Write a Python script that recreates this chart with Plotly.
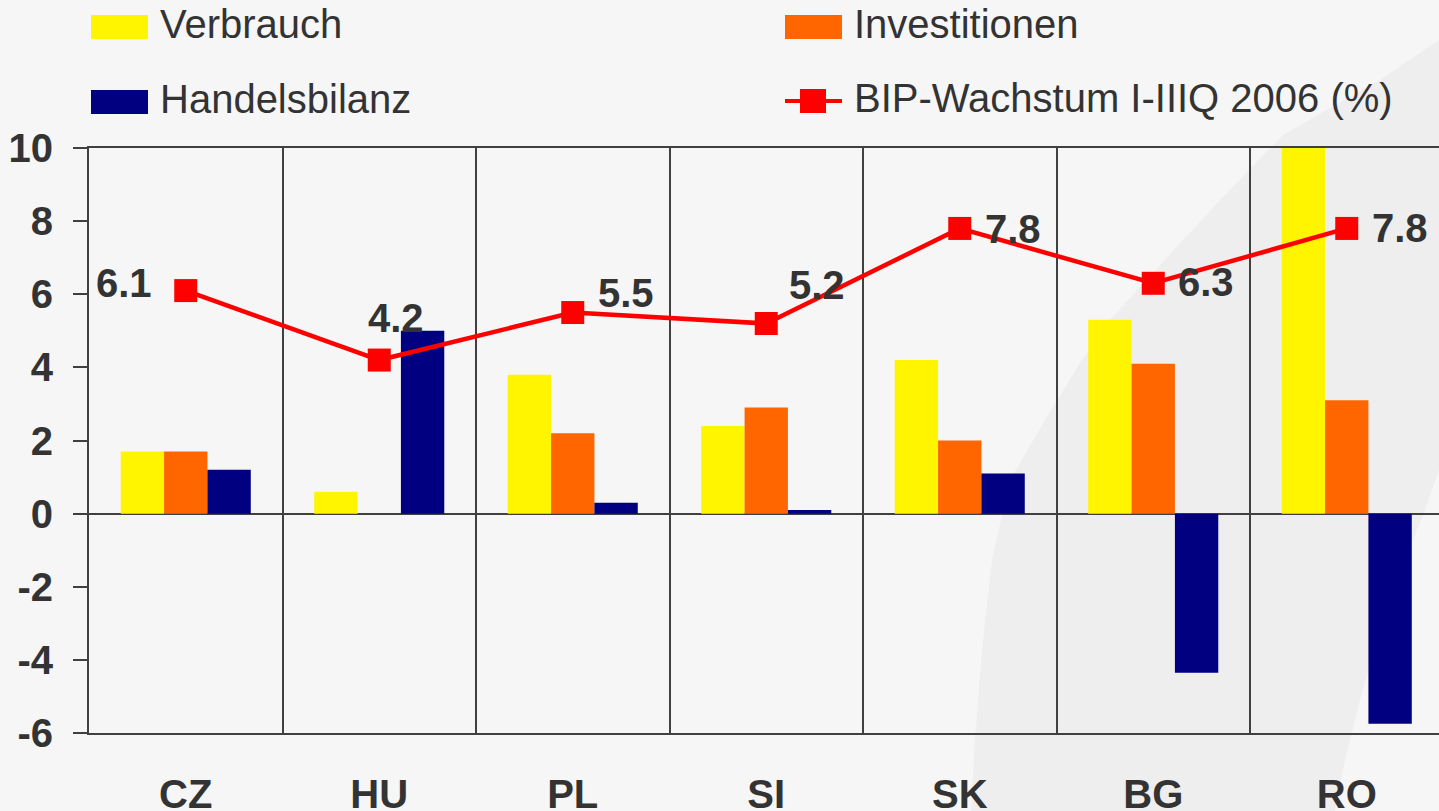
import plotly.graph_objects as go

# ---- data ----
countries = ["CZ", "HU", "PL", "SI", "SK", "BG", "RO"]
verbrauch = [1.7, 0.6, 3.8, 2.4, 4.2, 5.3, 10.8]
investitionen = [1.7, 0.0, 2.2, 2.9, 2.0, 4.1, 3.1]
handelsbilanz = [1.2, 5.0, 0.3, 0.1, 1.1, -4.35, -5.75]
bip_wachstum = [6.1, 4.2, 5.5, 5.2, 7.8, 6.3, 7.8]

series_names = ["Verbrauch", "Investitionen", "Handelsbilanz", "BIP-Wachstum I-IIIQ 2006 (%)"]
y_tickvals = [-6, -4, -2, 0, 2, 4, 6, 8, 10]
y_ticktext = ["-6", "-4", "-2", "0", "2", "4", "6", "8", "10"]

# ---- styles ----
C_YEL = "#FFF500"
C_ORG = "#FF6600"
C_NAV = "#000080"
C_RED = "#FF0000"
C_AX = "#404040"
C_TXT = "#333333"
FONT = "Liberation Sans, Arial, sans-serif"

W, H = 1439, 811
L, R, T, B = 89, 0, 148, 78
PW, PH = W - L - R, H - T - B


def px(x):
    return (x - L) / PW


def py(y):
    return (H - B - y) / PH


fig = go.Figure()
fig.add_bar(x=countries, y=verbrauch, name=series_names[0], marker=dict(color=C_YEL, line_width=0))
fig.add_bar(x=countries, y=investitionen, name=series_names[1], marker=dict(color=C_ORG, line_width=0))
fig.add_bar(x=countries, y=handelsbilanz, name=series_names[2], marker=dict(color=C_NAV, line_width=0))
fig.add_scatter(x=countries, y=bip_wachstum, name=series_names[3], mode="lines+markers",
                line=dict(color=C_RED, width=4.5),
                marker=dict(symbol="square", size=23, color=C_RED))

# data labels for growth line
offsets = [(-62, 8), (17, 42), (53, 20), (51, 39), (53, -1), (53, 1), (53, 0)]
annotations = []
for c, v, (dx, dy) in zip(countries, bip_wachstum, offsets):
    annotations.append(dict(x=c, y=v, text=f"{v:.1f}", showarrow=False, xshift=dx, yshift=dy,
                            xanchor="center", yanchor="middle",
                            font=dict(family=FONT, size=40, color=C_TXT, weight="bold")))

# background swoosh
pts = [(1439, 40), (1380, 80), (1330, 108), (1283, 135), (1220, 200), (1160, 265), (1110, 320),
       (1080, 363), (1045, 420), (1010, 480), (992, 560), (982, 650), (975, 740), (971, 811),
       (1335, 811), (1345, 760), (1360, 700), (1380, 630), (1405, 560), (1425, 510), (1439, 470)]
path = "M " + " L ".join(f"{px(a):.5f},{py(b):.5f}" for a, b in pts) + " Z"
shapes = [dict(type="path", xref="paper", yref="paper", path=path, fillcolor="#EEEEEE",
               line=dict(width=0), layer="below")]

# manual legend
leg_items = [
    (series_names[0], C_YEL, 91, 27, "bar"),
    (series_names[1], C_ORG, 785, 27, "bar"),
    (series_names[2], C_NAV, 91, 102, "bar"),
    (series_names[3], C_RED, 785, 101, "line"),
]
for name, col, x0, yc, kind in leg_items:
    if kind == "bar":
        shapes.append(dict(type="rect", xref="paper", yref="paper",
                           x0=px(x0), x1=px(x0 + 57), y0=py(yc - 12), y1=py(yc + 12),
                           fillcolor=col, line=dict(width=0)))
    else:
        shapes.append(dict(type="line", xref="paper", yref="paper",
                           x0=px(x0), x1=px(x0 + 57), y0=py(yc), y1=py(yc),
                           line=dict(color=col, width=4)))
        shapes.append(dict(type="rect", xref="paper", yref="paper",
                           x0=px(x0 + 15), x1=px(x0 + 41), y0=py(yc - 12), y1=py(yc + 12),
                           fillcolor=col, line=dict(width=0)))
    annotations.append(dict(xref="paper", yref="paper", x=px(x0 + 67), y=py(yc - 3), text=name,
                            showarrow=False, xanchor="left", yanchor="middle",
                            font=dict(family=FONT, size=40, color=C_TXT)))

fig.update_layout(
    width=W, height=H,
    margin=dict(l=L, r=R, t=T, b=B, pad=0),
    paper_bgcolor="#F6F6F6", plot_bgcolor="rgba(0,0,0,0)",
    barmode="group", bargap=0.328, bargroupgap=0,
    showlegend=False,
    shapes=shapes, annotations=annotations,
    xaxis=dict(type="category", range=[-0.5, -0.5 + PW / 193.5], tickson="boundaries",
               automargin=False,
               showgrid=True, gridcolor=C_AX, gridwidth=2,
               showline=True, mirror=True, linecolor=C_AX, linewidth=2,
               ticks="", ticklabelstandoff=25,
               tickfont=dict(family=FONT, size=40, color=C_TXT, weight="bold")),
    yaxis=dict(range=[-6, 10], tickmode="array", tickvals=y_tickvals, ticktext=y_ticktext,
               automargin=False, showgrid=False,
               zeroline=True, zerolinecolor=C_AX, zerolinewidth=2,
               showline=True, linecolor=C_AX, linewidth=2,
               ticks="outside", ticklen=14, tickwidth=2, tickcolor=C_AX,
               ticklabelstandoff=12,
               tickfont=dict(family=FONT, size=40, color=C_TXT, weight="bold")),
)

fig.write_html("out.html", config={"displayModeBar": False},
               post_script="document.body.style.margin='0';document.body.style.overflow='hidden';document.body.style.background='#F6F6F6';")
